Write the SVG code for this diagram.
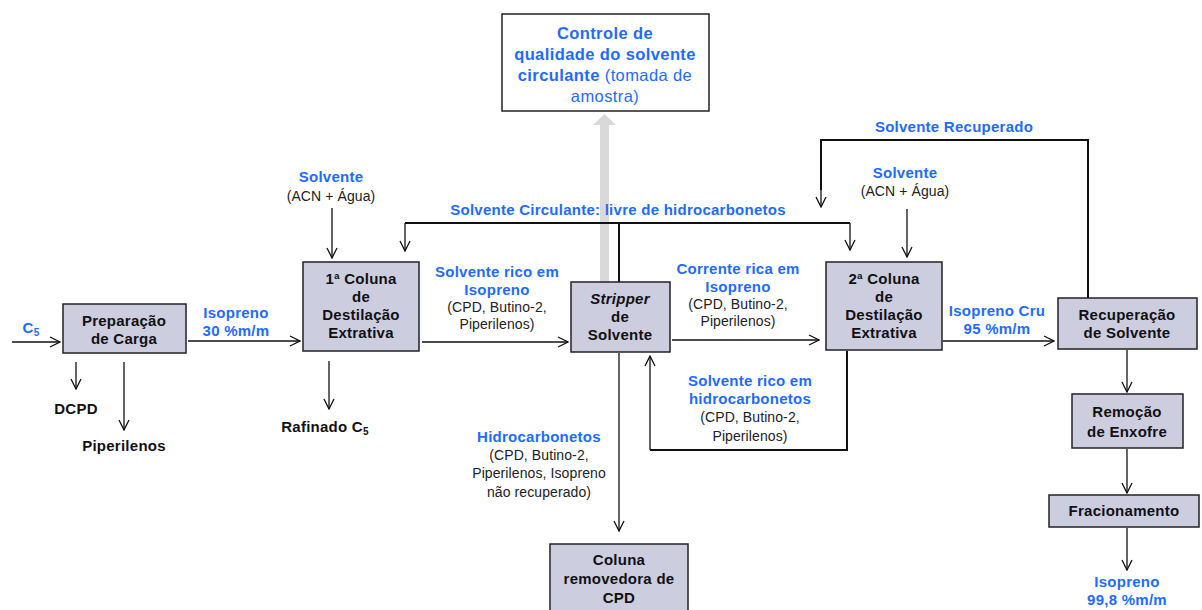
<svg xmlns="http://www.w3.org/2000/svg" width="1202" height="610" viewBox="0 0 1202 610">
<style>
.box{fill:#cdcde0;stroke:#222;stroke-width:1.5}
.wbox{fill:#fff;stroke:#222;stroke-width:1.5}
.t{font-family:"Liberation Sans",Arial,sans-serif;font-size:15px;letter-spacing:0.25px;font-weight:bold;fill:#111;text-anchor:middle}
.b{font-family:"Liberation Sans",Arial,sans-serif;font-size:15px;letter-spacing:0.25px;font-weight:bold;fill:#1f6bff;text-anchor:middle}
.n{font-family:"Liberation Sans",Arial,sans-serif;font-size:14px;letter-spacing:0.1px;fill:#222;text-anchor:middle}
.cb{font-family:"Liberation Sans",Arial,sans-serif;font-size:16.5px;letter-spacing:0.4px;font-weight:bold;fill:#1f6bff;text-anchor:middle}
.cn{font-family:"Liberation Sans",Arial,sans-serif;font-size:16.5px;letter-spacing:0.4px;font-weight:normal;fill:#1f6bff;text-anchor:middle}
.c{fill:none;stroke:#111;stroke-width:1.3}
.c2{fill:none;stroke:#111;stroke-width:2}
</style>
<defs>
<marker id="ah" viewBox="0 0 12 12" refX="11" refY="6" markerWidth="12" markerHeight="12" markerUnits="userSpaceOnUse" orient="auto">
<path d="M1,1 L11,6 L1,11" fill="none" stroke="#111" stroke-width="1.3"/>
</marker>
</defs>

<g id="gray-arrow">
<rect x="600" y="124" width="9" height="158" fill="#d9d9d9"/>
<polygon points="593,125 604.5,114 616,125" fill="#d9d9d9"/>
</g>

<g id="connectors">
<line class="c" x1="12" y1="342" x2="60" y2="342" marker-end="url(#ah)"/>
<line class="c" x1="76" y1="362" x2="76" y2="389" marker-end="url(#ah)"/>
<line class="c" x1="124" y1="362" x2="124" y2="430" marker-end="url(#ah)"/>
<line class="c" x1="188" y1="341" x2="300" y2="341" marker-end="url(#ah)"/>
<line class="c" x1="332" y1="208" x2="332" y2="258" marker-end="url(#ah)"/>
<line class="c" x1="329" y1="361" x2="329" y2="409" marker-end="url(#ah)"/>
<line class="c" x1="422" y1="342" x2="568" y2="342" marker-end="url(#ah)"/>
<line class="c" x1="672" y1="340" x2="819" y2="340" marker-end="url(#ah)"/>
<polyline class="c2" points="619,282 619,223"/>
<polyline class="c2" points="850,223 405,223"/>
<line class="c" x1="405" y1="223" x2="405" y2="251" marker-end="url(#ah)"/>
<line class="c" x1="850" y1="223" x2="850" y2="250" marker-end="url(#ah)"/>
<polyline class="c2" points="847,351 847,450 650,450"/>
<line class="c" x1="650" y1="450" x2="650" y2="356" marker-end="url(#ah)"/>
<line class="c" x1="619" y1="353" x2="619" y2="531" marker-end="url(#ah)"/>
<line class="c" x1="907" y1="209" x2="907" y2="257" marker-end="url(#ah)"/>
<polyline class="c2" points="1088,298 1088,140 821,140 821,190"/>
<line class="c" x1="821" y1="185" x2="821" y2="207" marker-end="url(#ah)"/>
<line class="c" x1="943" y1="341" x2="1054" y2="341" marker-end="url(#ah)"/>
<line class="c" x1="1127" y1="350" x2="1127" y2="392" marker-end="url(#ah)"/>
<line class="c" x1="1127" y1="449" x2="1127" y2="493" marker-end="url(#ah)"/>
<line class="c" x1="1127" y1="528" x2="1127" y2="570" marker-end="url(#ah)"/>
</g>

<g id="labels">
<text class="b" x="31" y="333">C<tspan font-size="10" dy="3">5</tspan></text>
<text class="t" x="76" y="414">DCPD</text>
<text class="t" x="124" y="451">Piperilenos</text>
<text class="b" x="236" y="318">Isopreno</text>
<text class="b" x="236" y="336">30 %m/m</text>
<text class="b" x="331" y="182">Solvente</text>
<text class="n" x="331" y="201">(ACN + Água)</text>
<text class="b" x="618" y="215">Solvente Circulante: livre de hidrocarbonetos</text>
<text class="t" x="325" y="432">Rafinado C<tspan font-size="10" dy="3">5</tspan></text>
<text class="b" x="497" y="277">Solvente rico em</text>
<text class="b" x="497" y="295">Isopreno</text>
<text class="n" x="497" y="312">(CPD, Butino-2,</text>
<text class="n" x="497" y="329">Piperilenos)</text>
<text class="b" x="738" y="274">Corrente rica em</text>
<text class="b" x="738" y="292">Isopreno</text>
<text class="n" x="738" y="309">(CPD, Butino-2,</text>
<text class="n" x="738" y="326">Piperilenos)</text>
<text class="b" x="750" y="386">Solvente rico em</text>
<text class="b" x="750" y="404">hidrocarbonetos</text>
<text class="n" x="750" y="422">(CPD, Butino-2,</text>
<text class="n" x="750" y="441">Piperilenos)</text>
<text class="b" x="539" y="442">Hidrocarbonetos</text>
<text class="n" x="539" y="460">(CPD, Butino-2,</text>
<text class="n" x="539" y="478">Piperilenos, Isopreno</text>
<text class="n" x="539" y="497">não recuperado)</text>
<text class="b" x="905" y="178">Solvente</text>
<text class="n" x="905" y="196">(ACN + Água)</text>
<text class="b" x="954" y="132">Solvente Recuperado</text>
<text class="b" x="997" y="316">Isopreno Cru</text>
<text class="b" x="997" y="334">95 %m/m</text>
<text class="b" x="1127" y="587">Isopreno</text>
<text class="b" x="1127" y="605">99,8 %m/m</text>
</g>

<g id="controle">
<rect class="wbox" x="502" y="14" width="207" height="97"/>
<text class="cb" x="605" y="39">Controle de</text>
<text class="cb" x="605" y="60">qualidade do solvente</text>
<text class="cb" x="605" y="81">circulante <tspan style="font-weight:normal">(tomada de</tspan></text>
<text class="cn" x="605" y="102">amostra)</text>
</g>

<g id="preparacao">
<rect class="box" x="63" y="304" width="123" height="49"/>
<text class="t" x="124" y="326">Preparação</text>
<text class="t" x="124" y="344">de Carga</text>
</g>

<g id="coluna1">
<rect class="box" x="303" y="262" width="116" height="89"/>
<text class="t" x="361" y="284">1ª Coluna</text>
<text class="t" x="361" y="302">de</text>
<text class="t" x="361" y="320">Destilação</text>
<text class="t" x="361" y="338">Extrativa</text>
</g>

<g id="stripper">
<rect class="box" x="571" y="282" width="99" height="70"/>
<text class="t" x="620" y="304" style="font-style:italic">Stripper</text>
<text class="t" x="620" y="322">de</text>
<text class="t" x="620" y="340">Solvente</text>
</g>

<g id="coluna2">
<rect class="box" x="826" y="262" width="116" height="88"/>
<text class="t" x="884" y="284">2ª Coluna</text>
<text class="t" x="884" y="302">de</text>
<text class="t" x="884" y="320">Destilação</text>
<text class="t" x="884" y="338">Extrativa</text>
</g>

<g id="recuperacao">
<rect class="box" x="1058" y="298" width="139" height="51"/>
<text class="t" x="1127" y="320">Recuperação</text>
<text class="t" x="1127" y="338">de Solvente</text>
</g>

<g id="remocao">
<rect class="box" x="1072" y="394" width="111" height="54"/>
<text class="t" x="1127" y="417">Remoção</text>
<text class="t" x="1127" y="437">de Enxofre</text>
</g>

<g id="fracionamento">
<rect class="box" x="1049" y="495" width="150" height="32"/>
<text class="t" x="1124" y="516">Fracionamento</text>
</g>

<g id="coluna-cpd">
<rect class="box" x="550" y="544" width="138" height="70"/>
<text class="t" x="619" y="565">Coluna</text>
<text class="t" x="619" y="584">removedora de</text>
<text class="t" x="619" y="603">CPD</text>
</g>
</svg>
